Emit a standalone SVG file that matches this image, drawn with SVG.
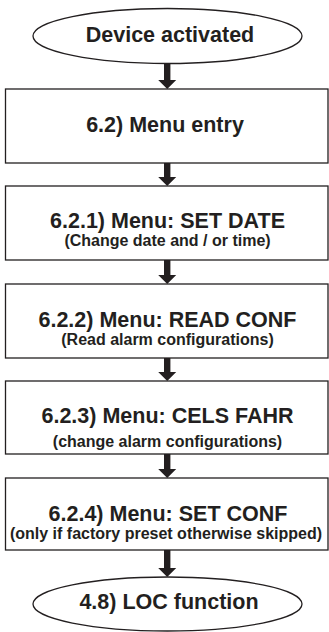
<svg xmlns="http://www.w3.org/2000/svg" width="329" height="632" viewBox="0 0 329 632">
<defs>
<style>
.shape{fill:#ffffff;stroke:#231f20;stroke-width:1.3}
.t{font-family:"Liberation Sans",Arial,sans-serif;font-weight:bold;fill:#231f20;text-anchor:middle}
.h{font-size:21.5px}
.s{font-size:16px}
.arr{fill:#231f20}
</style>
<path id="arrow" d="M-3.2,0 H3.2 V-9 H9 L0,0 L-9,-9 H-3.2 Z"/>
</defs>
<rect width="329" height="632" fill="#ffffff"/>
<g id="connectors">
<path class="arr" d="M164,64 H170.4 V80 H176.2 L167.2,89 L158.2,80 H164 Z"/>
<path class="arr" d="M164,163 H170.4 V177 H176.2 L167.2,186 L158.2,177 H164 Z"/>
<path class="arr" d="M164,260 H170.4 V275 H176.2 L167.2,284 L158.2,275 H164 Z"/>
<path class="arr" d="M164,358 H170.4 V372 H176.2 L167.2,381 L158.2,372 H164 Z"/>
<path class="arr" d="M164,454 H170.4 V469 H176.2 L167.2,478 L158.2,469 H164 Z"/>
<path class="arr" d="M164,550 H170.4 V568 H176.2 L167.2,577 L158.2,568 H164 Z"/>
</g>
<g id="start">
<ellipse class="shape" cx="167.5" cy="36" rx="134.5" ry="27.5"/>
<text class="t h" x="170" y="42">Device activated</text>
</g>
<g id="menu-entry">
<rect class="shape" x="5.5" y="89" width="322.5" height="74"/>
<text class="t h" x="165" y="132">6.2) Menu entry</text>
</g>
<g id="set-date">
<rect class="shape" x="5.5" y="186" width="322.5" height="74"/>
<text class="t h" x="167.5" y="228">6.2.1) Menu: SET DATE</text>
<text class="t s" x="167.5" y="246">(Change date and / or time)</text>
</g>
<g id="read-conf">
<rect class="shape" x="5.5" y="284" width="322.5" height="74"/>
<text class="t h" x="167.5" y="327">6.2.2) Menu: READ CONF</text>
<text class="t s" x="167.5" y="345">(Read alarm configurations)</text>
</g>
<g id="cels-fahr">
<rect class="shape" x="5.5" y="381" width="322.5" height="73"/>
<text class="t h" x="167.5" y="423">6.2.3) Menu: CELS FAHR</text>
<text class="t s" x="167.5" y="447">(change alarm configurations)</text>
</g>
<g id="set-conf">
<rect class="shape" x="5.5" y="478" width="322.5" height="72"/>
<text class="t h" x="168" y="521">6.2.4) Menu: SET CONF</text>
<text class="t s" x="166" y="539">(only if factory preset otherwise skipped)</text>
</g>
<g id="end">
<ellipse class="shape" cx="167.5" cy="604" rx="134.5" ry="27"/>
<text class="t h" x="169" y="609">4.8) LOC function</text>
</g>
</svg>
